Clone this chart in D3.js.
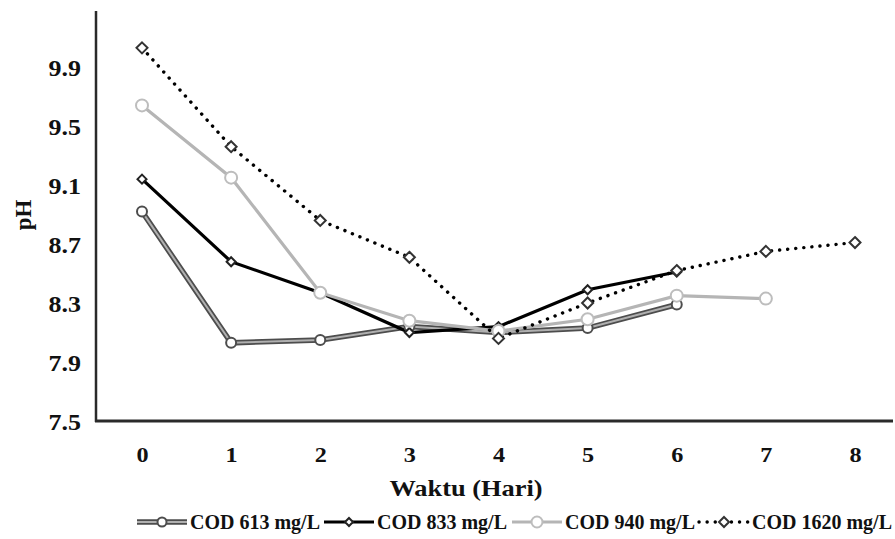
<!DOCTYPE html>
<html>
<head>
<meta charset="utf-8">
<script src="https://cdn.jsdelivr.net/npm/d3@7"></script>
<style>
  body { margin: 0; background: #fff; }
  text { font-family: "Liberation Serif", "Times New Roman", serif; font-weight: bold; fill: #111; }
</style>
</head>
<body>
<svg width="895" height="539"></svg>
<script>
// values
const days = [0, 1, 2, 3, 4, 5, 6, 7, 8];
const yTicks = [7.5, 7.9, 8.3, 8.7, 9.1, 9.5, 9.9];
const cod613 = [8.92, 8.03, 8.05, 8.14, 8.10, 8.13, 8.29];
const cod833 = [9.14, 8.58, 8.37, 8.10, 8.14, 8.39, 8.51];
const cod940 = [9.64, 9.15, 8.37, 8.18, 8.11, 8.19, 8.35, 8.33];
const cod1620 = [10.03, 9.36, 8.86, 8.61, 8.06, 8.30, 8.52, 8.65, 8.71];
const seriesNames = ["COD 613 mg/L", "COD 833 mg/L", "COD 940 mg/L", "COD 1620 mg/L"];

let svg = d3.select("svg");

let xScale = d3.scalePoint().domain(days).range([142, 855]);
let yScale = d3.scaleLinear().domain([7.5, 10.28]).range([421, 11]);

// line styles per series
let styles = [
  { name: seriesNames[0], values: cod613, shape: "circle", layers: [
      { stroke: "#4d4d4d", width: 5.5 }, { stroke: "#b0b0b0", width: 2 }],
    mark: { stroke: "#4d4d4d", size: 5 } },
  { name: seriesNames[1], values: cod833, shape: "diamond", layers: [
      { stroke: "#000", width: 3.2 }],
    mark: { stroke: "#222", size: 4.5 } },
  { name: seriesNames[2], values: cod940, shape: "circle", layers: [
      { stroke: "#b5b5b5", width: 3.2 }],
    mark: { stroke: "#bdbdbd", size: 6 } },
  { name: seriesNames[3], values: cod1620, shape: "diamond", layers: [
      { stroke: "#000", width: 3.4, dash: "0.1 8", cap: "round" }],
    mark: { stroke: "#333", size: 5.5 } }
];

// y axis
let yAxis = svg.append("g")
  .attr("transform", "translate(96,0)")
  .call(d3.axisLeft(yScale).tickValues(yTicks).tickSize(0).tickPadding(0)
    .tickFormat(d3.format(".1f")));
yAxis.select(".domain").remove();
yAxis.selectAll("text")
  .attr("x", 0)
  .attr("transform", "translate(-15,0) scale(1.13,1)")
  .style("font-size", "23px").attr("dy", "0.36em");

// x axis
let xAxis = svg.append("g")
  .attr("transform", "translate(0,421)")
  .call(d3.axisBottom(xScale).tickSize(0).tickPadding(0));
xAxis.select(".domain").remove();
xAxis.selectAll("text")
  .attr("y", 0).attr("dy", 0)
  .attr("transform", "translate(0,41) scale(1.1,1)")
  .style("font-size", "22px");

svg.append("line")
  .attr("x1", 96).attr("x2", 96)
  .attr("y1", yScale.range()[1]).attr("y2", 422)
  .attr("stroke", "#2a2a2a").attr("stroke-width", 2.5);
svg.append("line")
  .attr("x1", 95).attr("x2", 893)
  .attr("y1", 421).attr("y2", 421)
  .attr("stroke", "#2a2a2a").attr("stroke-width", 3);

// axis titles
svg.append("text")
  .attr("transform", "translate(466,496) scale(1.1,1)")
  .attr("text-anchor", "middle")
  .style("font-size", "24px")
  .text("Waktu (Hari)");
svg.append("text")
  .attr("transform", "translate(31,215) rotate(-90)")
  .attr("text-anchor", "middle")
  .style("font-size", "23px")
  .text("pH");

function markerPath(shape, size) {
  if (shape === "circle") {
    return d3.symbol().type(d3.symbolCircle).size(Math.PI * size * size)();
  }
  return "M0," + (-size) + "L" + size + ",0L0," + size + "L" + (-size) + ",0Z";
}

let line = d3.line()
  .x(function(d, i) { return xScale(days[i]); })
  .y(function(d) { return yScale(d); });

let plot = svg.append("g");
styles.forEach(function(s) {
  s.layers.forEach(function(l) {
    plot.append("path")
      .datum(s.values)
      .attr("d", line)
      .attr("fill", "none")
      .attr("stroke", l.stroke)
      .attr("stroke-width", l.width)
      .attr("stroke-dasharray", l.dash || null)
      .attr("stroke-linecap", l.cap || "butt");
  });
});
styles.forEach(function(s) {
  plot.selectAll(null)
    .data(s.values)
    .enter()
    .append("path")
    .attr("transform", function(d, i) {
      return "translate(" + xScale(days[i]) + "," + yScale(d) + ")";
    })
    .attr("d", markerPath(s.shape, s.mark.size))
    .attr("fill", "#fff")
    .attr("stroke", s.mark.stroke)
    .attr("stroke-width", 2);
});

// legend
let legendX = [135, 322, 510, 697];
let legend = svg.append("g").attr("transform", "translate(0,522)");
styles.forEach(function(s, i) {
  let g = legend.append("g").attr("transform", "translate(" + legendX[i] + ",0)");
  s.layers.forEach(function(l) {
    g.append("line")
      .attr("x1", 2).attr("x2", 52)
      .attr("stroke", l.stroke)
      .attr("stroke-width", l.width)
      .attr("stroke-dasharray", l.dash || null)
      .attr("stroke-linecap", l.cap || "butt");
  });
  g.append("path")
    .attr("transform", "translate(27,0)")
    .attr("d", markerPath(s.shape, s.mark.size - 0.5))
    .attr("fill", "#fff")
    .attr("stroke", s.mark.stroke)
    .attr("stroke-width", 2);
  g.append("text")
    .attr("x", 55).attr("dy", "0.35em")
    .style("font-size", "20px")
    .text(s.name);
});
</script>
</body>
</html>
